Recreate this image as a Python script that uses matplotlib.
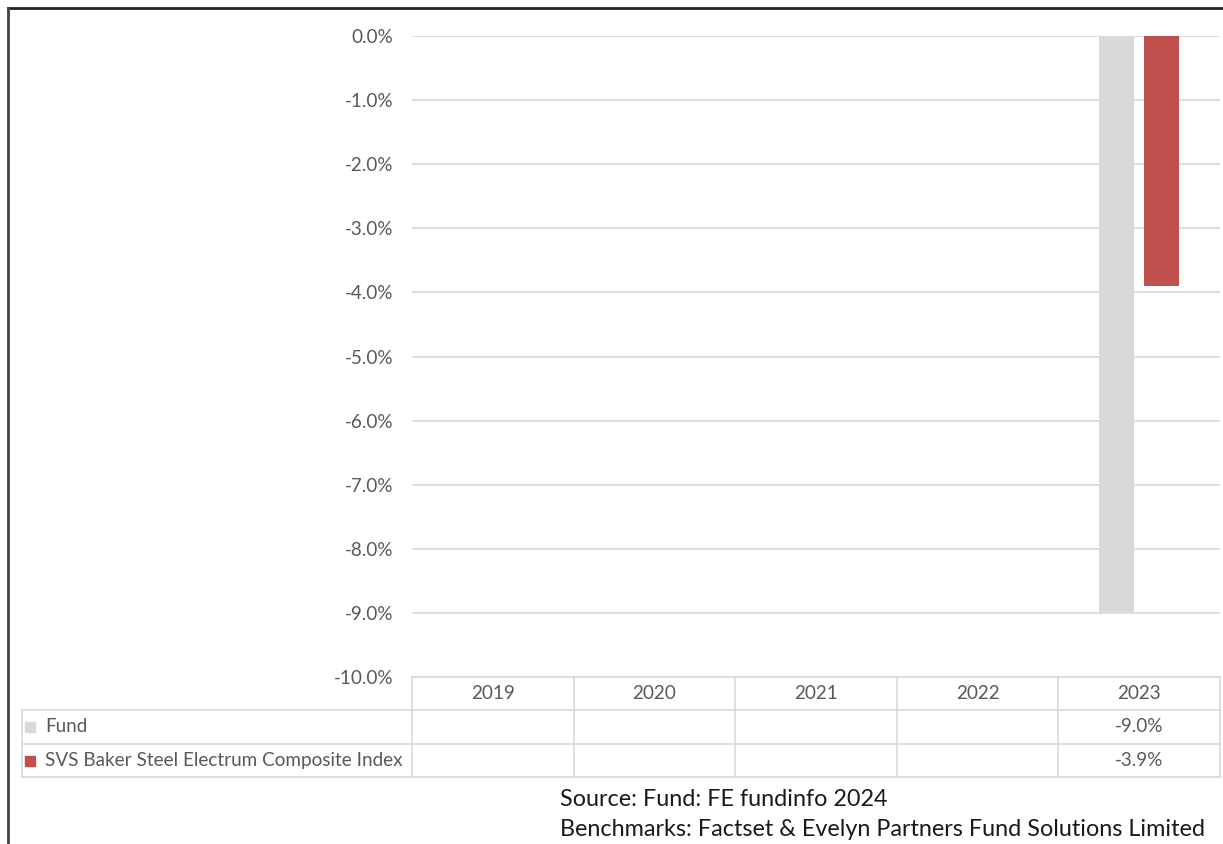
import matplotlib
matplotlib.use("Agg")
import matplotlib.pyplot as plt
import numpy as np
from matplotlib.lines import Line2D
from matplotlib.patches import Rectangle

years = ["2019", "2020", "2021", "2022", "2023"]
fund = [np.nan, np.nan, np.nan, np.nan, -9.0]
index_vals = [np.nan, np.nan, np.nan, np.nan, -3.9]
series_names = ["Fund", "SVS Baker Steel Electrum Composite Index"]
series_colors = ["#d9d9d9", "#c0504d"]
yticks = [0, -1, -2, -3, -4, -5, -6, -7, -8, -9, -10]
footer = ["Source: Fund: FE fundinfo 2024",
          "Benchmarks: Factset & Evelyn Partners Fund Solutions Limited"]

plt.rcParams['font.family'] = ['Lato', 'DejaVu Sans']

W, H = 1223, 844
fig = plt.figure(figsize=(W / 100, H / 100), dpi=100)

def fx(px):
    return px / W

def fy(py):
    return 1 - py / H

fs = 13.6
left_px, right_px, top_px, bot_px = 412, 1220, 36, 677
ax = fig.add_axes([fx(left_px), fy(bot_px), fx(right_px - left_px), (bot_px - top_px) / H])
ax.set_xlim(-0.5, len(years) - 0.5)
ax.set_ylim(-10, 0)
x = np.arange(len(years))
w = 0.216
ax.bar(x - 0.143, fund, width=w, color=series_colors[0], zorder=3)
ax.bar(x + 0.139, index_vals, width=w, color=series_colors[1], zorder=3)
ax.set_yticks(yticks)
ax.set_yticklabels([f"{v:.1f}%" for v in yticks], fontsize=fs, color="#595959")
ax.tick_params(axis='y', length=0, pad=13.5)
ax.set_xticks([])
ax.grid(axis='y', color="#d9d9d9", linewidth=1.2, zorder=0)
for s in ax.spines.values():
    s.set_visible(False)

# data table
grid_c = "#d9d9d9"
row_y = [677, 710, 744, 777]
col_x = [left_px + i * (right_px - left_px) / len(years) for i in range(len(years) + 1)]
tbl_left = 22
lw = 1.2
fig.add_artist(Line2D([fx(col_x[0]), fx(col_x[-1])], [fy(row_y[0])] * 2, color=grid_c, lw=lw))
for ry in row_y[1:]:
    fig.add_artist(Line2D([fx(tbl_left), fx(col_x[-1])], [fy(ry)] * 2, color=grid_c, lw=lw))
for cx in col_x:
    fig.add_artist(Line2D([fx(cx)] * 2, [fy(row_y[0]), fy(row_y[-1])], color=grid_c, lw=lw))
fig.add_artist(Line2D([fx(tbl_left)] * 2, [fy(row_y[1]), fy(row_y[-1])], color=grid_c, lw=lw))

tc = "#595959"
for i, yr in enumerate(years):
    cx = (col_x[i] + col_x[i + 1]) / 2
    fig.text(fx(cx), fy((row_y[0] + row_y[1]) / 2), yr, ha='center', va='center', fontsize=fs, color=tc)
    for r, vals in enumerate([fund, index_vals]):
        if not np.isnan(vals[i]):
            fig.text(fx(cx), fy((row_y[r + 1] + row_y[r + 2]) / 2), f"{vals[i]:.1f}%",
                     ha='center', va='center', fontsize=fs, color=tc)

for r, (name, col) in enumerate(zip(series_names, series_colors)):
    cy = (row_y[r + 1] + row_y[r + 2]) / 2
    fig.add_artist(Rectangle((fx(25), fy(cy + 5)), fx(10), 10 / H, color=col))
    fig.text(fx(45), fy(cy), name, ha='left', va='center', fontsize=fs, color=tc)

# footer
fig.text(fx(560), fy(800), footer[0], ha='left', va='center', fontsize=16.8, color="#1a1a1a")
fig.text(fx(560), fy(830), footer[1], ha='left', va='center', fontsize=16.8, color="#1a1a1a")

# outer frame (top and left)
fig.add_artist(Line2D([fx(8), 1], [fy(8)] * 2, color="#222222", lw=2))
fig.add_artist(Line2D([fx(8)] * 2, [fy(8), 0], color="#444444", lw=2))

fig.savefig("out.png", dpi=100)
